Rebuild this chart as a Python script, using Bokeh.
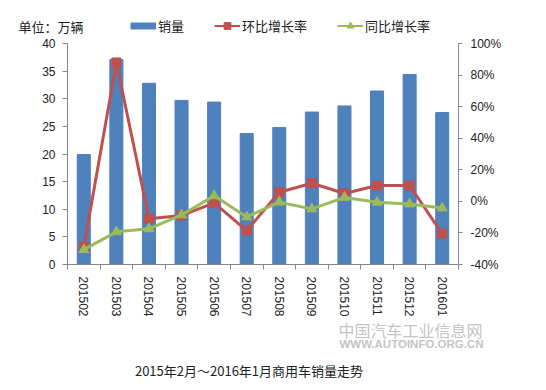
from bokeh.plotting import figure
from bokeh.layouts import column
from bokeh.models import (Range1d, LinearAxis, FixedTicker, Legend, LegendItem,
                          Label, PrintfTickFormatter)
from bokeh.embed import file_html
from bokeh.resources import INLINE

months = ["201502", "201503", "201504", "201505", "201506", "201507",
          "201508", "201509", "201510", "201511", "201512", "201601"]
sales = [19.9, 37.1, 32.8, 29.7, 29.4, 23.7, 24.8, 27.6, 28.7, 31.4, 34.4, 27.5]
mom = [-29, 88, -11, -9, -1, -18.5, 5.8, 11.5, 5, 10, 10, -20.5]
yoy = [-30.6, -19.3, -17.4, -8.6, 3.5, -9.9, -0.5, -4.8, 2.5, -0.6, -1.7, -4.2]
left_ticks = [0, 5, 10, 15, 20, 25, 30, 35, 40]
right_ticks = [-40, -20, 0, 20, 40, 60, 80, 100]
series_names = ["销量", "环比增长率", "同比增长率"]
unit_text = "单位：万辆"
chart_title = "2015年2月～2016年1月商用车销量走势"
wm_cn = "中国汽车工业信息网"
wm_en = "WWW.AUTOINFO.ORG.CN"

CJK = "Noto Sans CJK SC"
LAT = "Liberation Sans"
BLUE, RED, GREEN = "#4F81BD", "#C0504D", "#9BBB59"
AX = "#868686"
TXT = "#222222"
WM = "#c4c4c4"
W = 546
TOP_H, MAIN_H, BOT_H = 35, 284, 71

idx = list(range(len(months)))


def blank(h):
    # a frame covering the whole strip; its ranges lie away from the data,
    # so legend proxies drawn from the data stay off-screen
    f = figure(width=W, height=h, output_backend="svg", toolbar_location=None,
               x_range=Range1d(1000, 1000 + W), y_range=Range1d(1000, 1000 + h),
               x_axis_type=None, y_axis_type=None, min_border=0, frame_align=False)
    f.xgrid.visible = False
    f.ygrid.visible = False
    f.outline_line_color = None
    return f


# ---- header: unit + legend ----
top = blank(TOP_H)
lg_bar = top.line(idx, sales, line_color=BLUE, line_width=7)
lg_rl = top.line(idx, mom, line_color=RED, line_width=2)
lg_rm = top.scatter(idx, mom, marker="square", color=RED)
lg_gl = top.line(idx, yoy, line_color=GREEN, line_width=2)
lg_gm = top.scatter(idx, yoy, marker="triangle", color=GREEN)
legend = Legend(items=[LegendItem(label=series_names[0], renderers=[lg_bar]),
                       LegendItem(label=series_names[1], renderers=[lg_rl, lg_rm]),
                       LegendItem(label=series_names[2], renderers=[lg_gl, lg_gm])],
                location=(130, 0.5), orientation="horizontal",
                glyph_width=26, glyph_height=17, label_height=17,
                label_standoff=2, spacing=30, padding=0, margin=0,
                border_line_color=None, background_fill_alpha=0,
                label_text_font=CJK, label_text_font_size="13px",
                label_text_color=TXT)
top.add_layout(legend)
top.add_layout(Label(x=18, y=9, x_units="screen", y_units="screen", text=unit_text,
                     text_font=CJK, text_font_size="13px", text_color=TXT,
                     text_align="left", text_baseline="middle"))

# ---- main chart ----
p = figure(width=W, height=MAIN_H, output_backend="svg", toolbar_location=None,
           x_range=Range1d(-0.5, len(months) - 0.5), y_range=Range1d(0, 40),
           min_border_left=67, min_border_right=88, min_border_top=8,
           min_border_bottom=53, frame_align=False)
p.extra_y_ranges = {"pct": Range1d(-40, 100)}
p.xgrid.visible = False
p.ygrid.visible = False
p.outline_line_color = None

xa = p.xaxis[0]
xa.ticker = FixedTicker(ticks=idx, minor_ticks=[i - 0.5 for i in range(len(months) + 1)])
xa.major_label_overrides = {i: m for i, m in enumerate(months)}
xa.major_label_orientation = "vertical"
xa.major_tick_out = 0
xa.major_tick_in = 0
xa.minor_tick_out = 5
xa.minor_tick_in = 0
xa.major_label_standoff = 7
xa.axis_line_color = AX
xa.minor_tick_line_color = AX
xa.major_label_text_font = LAT
xa.major_label_text_font_size = "12px"
xa.major_label_text_color = TXT

ya = p.yaxis[0]
ya.ticker = FixedTicker(ticks=left_ticks)
ya.major_tick_out = 5
ya.major_tick_in = 0
ya.minor_tick_out = 0
ya.minor_tick_in = 0
ya.major_label_standoff = 7
ya.axis_line_color = AX
ya.major_tick_line_color = AX
ya.major_label_text_font = LAT
ya.major_label_text_font_size = "12px"
ya.major_label_text_color = TXT

ra = LinearAxis(y_range_name="pct", ticker=FixedTicker(ticks=right_ticks),
                formatter=PrintfTickFormatter(format="%d%%"))
ra.major_tick_out = 4
ra.major_tick_in = 0
ra.minor_tick_out = 0
ra.minor_tick_in = 0
ra.major_label_standoff = 8
ra.axis_line_color = AX
ra.major_tick_line_color = AX
ra.major_label_text_font = LAT
ra.major_label_text_font_size = "12px"
ra.major_label_text_color = TXT
p.add_layout(ra, "right")

p.vbar(x=idx, top=sales, width=0.4, color=BLUE)
p.line(idx, mom, y_range_name="pct", line_color=RED, line_width=3)
p.scatter(idx, mom, y_range_name="pct", marker="square", size=9, color=RED)
p.line(idx, yoy, y_range_name="pct", line_color=GREEN, line_width=3)
p.scatter(idx, yoy, y_range_name="pct", marker="triangle", size=10, color=GREEN)

# ---- footer: watermark + title ----
bot = blank(BOT_H)
bot.add_layout(Label(x=410, y=61, x_units="screen", y_units="screen", text=wm_cn,
                     text_font=CJK, text_font_size="16px", text_color=WM,
                     text_align="center", text_baseline="middle"))
bot.add_layout(Label(x=411, y=47, x_units="screen", y_units="screen", text=wm_en,
                     text_font=LAT, text_font_size="11.5px", text_font_style="bold",
                     text_color=WM, text_align="center", text_baseline="middle"))
bot.add_layout(Label(x=248.5, y=20, x_units="screen", y_units="screen", text=chart_title,
                     text_font=CJK, text_font_size="13px", text_color=TXT,
                     text_align="center", text_baseline="middle"))

layout = column(top, p, bot, spacing=0)
open("out.html", "w").write(file_html(layout, INLINE))
